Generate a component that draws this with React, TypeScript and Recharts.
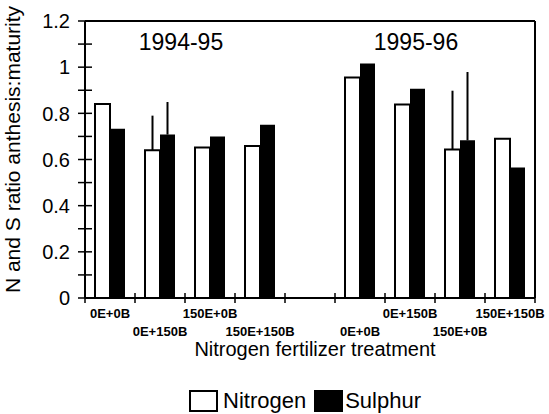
import React from 'react';
import { BarChart, Bar, XAxis, YAxis, ErrorBar, Legend, ReferenceDot, ReferenceLine, Label } from 'recharts';

const FONT = '"Liberation Sans", Arial, Helvetica, sans-serif';

// nine treatment slots on the x axis (slot 5 is the empty gap between the seasons)
const slotPositions = [0.5, 1.5, 2.5, 3.5, 4.5, 5.5, 6.5, 7.5, 8.5];
const treatmentLabels = ['0E+0B', '0E+150B', '150E+0B', '150E+150B', '', '0E+0B', '0E+150B', '150E+0B', '150E+150B'];
const nitrogen = [0.84, 0.64, 0.652, 0.659, null, 0.955, 0.838, 0.643, 0.69];
const sulphur = [0.733, 0.708, 0.7, 0.751, null, 1.016, 0.907, 0.683, 0.565];
const nitrogenErr = [0, 0.15, 0, 0, 0, 0, 0, 0.255, 0];
const sulphurErr = [0, 0.141, 0, 0, 0, 0, 0, 0.296, 0];

const xTicks = [0, 0.5, 1, 1.5, 2, 2.5, 3, 3.5, 4, 4.5, 5, 5.5, 6, 6.5, 7, 7.5, 8, 8.5, 9];
const yTicks = [0, 0.1, 0.2, 0.3, 0.4, 0.5, 0.6, 0.7, 0.8, 0.9, 1, 1.1, 1.2];
const yTickLabels = ['0', '', '0.2', '', '0.4', '', '0.6', '', '0.8', '', '1', '', '1.2'];

const seasonLabels = ['1994-95', '1995-96'];
const seasonAnchorX = [1.92, 6.62];
const seasonAnchorY = [1.11, 1.11];

const data = slotPositions.map((pos, i) => ({
  pos,
  nitrogen: nitrogen[i],
  sulphur: sulphur[i],
  nitrogenErr: [0, nitrogenErr[i]],
  sulphurErr: [0, sulphurErr[i]],
}));

const TreatmentTick = (props: any) => {
  const x = Number(props.x);
  const y = Number(props.y);
  const v = Number(props.payload ? props.payload.value : 0);
  if (Math.abs(v - Math.round(v)) < 1e-6) {
    return <line x1={x} x2={x} y1={y - 5} y2={y + 5} stroke="#000" strokeWidth={1.5} />;
  }
  const i = Math.floor(v);
  const row = i % 2;
  return (
    <text x={x} y={y + (row ? 38 : 20)} textAnchor="middle" fontSize={13} fontWeight="bold" fill="#000" fontFamily={FONT}>
      {treatmentLabels[i]}
    </text>
  );
};

const RatioTick = (props: any) => {
  const x = Number(props.x);
  const y = Number(props.y);
  const label = yTickLabels[props.index];
  return (
    <g>
      <line x1={x - 7} x2={x + 7} y1={y} y2={y} stroke="#000" strokeWidth={1.5} />
      {label ? (
        <text x={x - 15} y={y} dy="0.36em" textAnchor="end" fontSize={20} fill="#000" fontFamily={FONT}>
          {label}
        </text>
      ) : null}
    </g>
  );
};

const LegendContent = (props: any) => {
  const payload = props.payload || [];
  return (
    <div style={{ display: 'flex', justifyContent: 'flex-start', alignItems: 'center', height: 30, paddingLeft: 189, paddingTop: 4, boxSizing: 'border-box', fontSize: 22, fontFamily: FONT, color: '#000' }}>
      {payload.map((p: any) => (
        <div key={p.value} style={{ display: 'flex', alignItems: 'center', marginRight: p.dataKey === 'nitrogen' ? 8 : 0 }}>
          <span
            style={{
              display: 'inline-block',
              width: 29,
              height: 22,
              boxSizing: 'border-box',
              border: '2px solid #000',
              background: p.dataKey === 'nitrogen' ? '#fff' : '#000',
              marginRight: p.dataKey === 'nitrogen' ? 5 : 2,
            }}
          />
          <span>{p.value}</span>
        </div>
      ))}
    </div>
  );
};

const YTitle = (props: any) => {
  const vb = props.viewBox || { x: 0, y: 0, width: 0, height: 0 };
  const cx = Number(vb.x) + 20;
  const cy = Number(vb.y) + Number(vb.height) / 2 - 10;
  return (
    <text x={cx} y={cy} transform={`rotate(-90, ${cx}, ${cy})`} textAnchor="middle" fontSize={21} fill="#000" fontFamily={FONT}>
      N and S ratio anthesis:maturity
    </text>
  );
};

const XTitle = (props: any) => {
  const vb = props.viewBox || { x: 0, y: 0, width: 0, height: 0 };
  return (
    <text x={Number(vb.x) + Number(vb.width) / 2 + 5} y={Number(vb.y) + 58} textAnchor="middle" fontSize={20} fill="#000" fontFamily={FONT}>
      Nitrogen fertilizer treatment
    </text>
  );
};

export default function App() {
  return (
    <div style={{ position: 'absolute', left: 0, top: 0, width: 549, height: 414, background: '#fff' }}>
      <BarChart
        width={549}
        height={414}
        data={data}
        margin={{ top: 21, right: 14, left: 0, bottom: 0 }}
        barGap={0}
        barSize={15}
      >
        <XAxis
          xAxisId="x"
          dataKey="pos"
          type="number"
          domain={[0, 9]}
          ticks={xTicks}
          interval={0}
          height={86}
          tickSize={0}
          tickMargin={0}
          tickLine={false}
          tick={<TreatmentTick />}
          stroke="#000"
          axisLine={{ stroke: '#000', strokeWidth: 2 }}
        >
          <Label content={<XTitle />} />
        </XAxis>
        <YAxis
          yAxisId="y"
          domain={[0, 1.2]}
          ticks={yTicks}
          interval={0}
          width={85}
          tickSize={0}
          tickMargin={0}
          tickLine={false}
          tick={<RatioTick />}
          stroke="#000"
          axisLine={{ stroke: '#000', strokeWidth: 2 }}
        >
          <Label content={<YTitle />} />
        </YAxis>
        <ReferenceLine xAxisId="x" yAxisId="y" y={1.2} stroke="#000" strokeWidth={2} ifOverflow="visible" />
        <ReferenceLine xAxisId="x" yAxisId="y" x={9} stroke="#000" strokeWidth={2} ifOverflow="visible" />
        {seasonLabels.map((s, i) => (
          <ReferenceDot
            key={s}
            xAxisId="x"
            yAxisId="y"
            x={seasonAnchorX[i]}
            y={seasonAnchorY[i]}
            r={0}
            fill="none"
            stroke="none"
            label={{ value: s, position: 'center', fontSize: 23, fill: '#000', fontFamily: FONT }}
          />
        ))}
        <Bar xAxisId="x" yAxisId="y" dataKey="nitrogen" name="Nitrogen" fill="#fff" stroke="#000" strokeWidth={2} isAnimationActive={false}>
          <ErrorBar dataKey="nitrogenErr" direction="y" width={0} stroke="#000" strokeWidth={2} />
        </Bar>
        <Bar xAxisId="x" yAxisId="y" dataKey="sulphur" name="Sulphur" fill="#000" isAnimationActive={false}>
          <ErrorBar dataKey="sulphurErr" direction="y" width={0} stroke="#000" strokeWidth={2} />
        </Bar>
        <Legend verticalAlign="bottom" height={30} content={<LegendContent />} />
      </BarChart>
    </div>
  );
}
